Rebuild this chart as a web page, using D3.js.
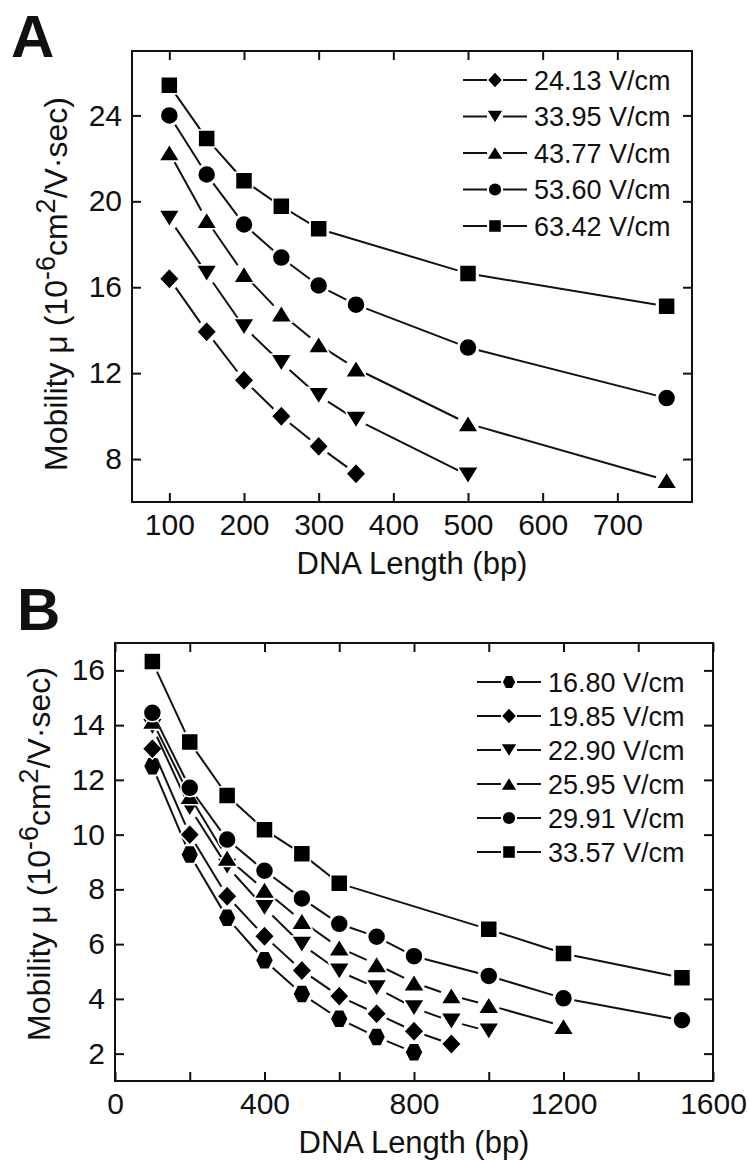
<!DOCTYPE html>
<html>
<head>
<meta charset="utf-8">
<script src="https://cdn.jsdelivr.net/npm/d3@7"></script>
<style>
  body { margin: 0; background: #fff; }
  text { font-family: "Liberation Sans", Arial, sans-serif; fill: #111; }
</style>
</head>
<body>
<div id="canvas"></div>
<script>
// Panel A: DNA length (bp) and mobility for each field strength
const lengthA = [100, 150, 200, 250, 300, 350, 500, 766];
const lengthA_sq = [100, 150, 200, 250, 300, 500, 766];
const fieldsA = ["24.13 V/cm", "33.95 V/cm", "43.77 V/cm", "53.60 V/cm", "63.42 V/cm"];
const mobA_2413 = [16.4, 13.93, 11.67, 9.99, 8.59, 7.32];
const mobA_3395 = [19.2, 16.64, 14.15, 12.48, 10.95, 9.84, 7.24];
const mobA_4377 = [22.27, 19.12, 16.6, 14.77, 13.33, 12.21, 9.65, 7.01];
const mobA_5360 = [24.0, 21.25, 18.92, 17.38, 16.08, 15.19, 13.19, 10.84];
const mobA_6342 = [25.4, 22.92, 20.96, 19.77, 18.72, 16.64, 15.11];
const ticksAx = [100, 200, 300, 400, 500, 600, 700];
const ticksAy = [8, 12, 16, 20, 24];

// Panel B
const lengthB = [100, 200, 300, 400, 500, 600, 700, 800, 900, 1000, 1200, 1517];
const lengthB_ci = [100, 200, 300, 400, 500, 600, 700, 800, 1000, 1200, 1517];
const lengthB_sq = [100, 200, 300, 400, 500, 600, 1000, 1200, 1517];
const fieldsB = ["16.80 V/cm", "19.85 V/cm", "22.90 V/cm", "25.95 V/cm", "29.91 V/cm", "33.57 V/cm"];
const mobB_1680 = [12.5, 9.27, 6.96, 5.41, 4.18, 3.27, 2.61, 2.05];
const mobB_1985 = [13.14, 10.0, 7.75, 6.29, 5.04, 4.1, 3.46, 2.82, 2.35];
const mobB_2290 = [13.94, 10.98, 8.84, 7.33, 5.99, 5.01, 4.4, 3.67, 3.18, 2.82];
const mobB_2595 = [14.15, 11.4, 9.15, 7.98, 6.84, 5.87, 5.26, 4.59, 4.12, 3.77, 3.0];
const mobB_2991 = [14.45, 11.71, 9.82, 8.68, 7.67, 6.74, 6.27, 5.56, 4.84, 4.02, 3.22];
const mobB_3357 = [16.32, 13.38, 11.43, 10.18, 9.3, 8.22, 6.54, 5.66, 4.77];
const ticksBx = [0, 200, 400, 600, 800, 1000, 1200, 1400, 1600];
const ticksBlab = [0, 400, 800, 1200, 1600];
const ticksBy = [2, 4, 6, 8, 10, 12, 14, 16];

const seriesA = [
  {name: fieldsA[0], shape: "diamond", x: lengthA, y: mobA_2413},
  {name: fieldsA[1], shape: "down", x: lengthA, y: mobA_3395},
  {name: fieldsA[2], shape: "up", x: lengthA, y: mobA_4377},
  {name: fieldsA[3], shape: "circle", x: lengthA, y: mobA_5360},
  {name: fieldsA[4], shape: "square", x: lengthA_sq, y: mobA_6342}
];
const seriesB = [
  {name: fieldsB[0], shape: "hexagon", x: lengthB, y: mobB_1680},
  {name: fieldsB[1], shape: "diamond", x: lengthB, y: mobB_1985},
  {name: fieldsB[2], shape: "down", x: lengthB, y: mobB_2290},
  {name: fieldsB[3], shape: "up", x: lengthB, y: mobB_2595},
  {name: fieldsB[4], shape: "circle", x: lengthB_ci, y: mobB_2991},
  {name: fieldsB[5], shape: "square", x: lengthB_sq, y: mobB_3357}
];

// marker outlines centered on the bounding box
function markerPath(shape, k) {
  const p = d3.path();
  if (shape === "square") {
    p.rect(-8.5 * k, -8.5 * k, 17 * k, 17 * k);
  } else if (shape === "circle") {
    p.arc(0, 0, 9 * k, 0, 2 * Math.PI);
  } else if (shape === "diamond") {
    p.moveTo(0, -10.5 * k); p.lineTo(10 * k, 0); p.lineTo(0, 10.5 * k); p.lineTo(-10 * k, 0); p.closePath();
  } else if (shape === "up") {
    p.moveTo(0, -8.5 * k); p.lineTo(10.5 * k, 8.5 * k); p.lineTo(-10.5 * k, 8.5 * k); p.closePath();
  } else if (shape === "down") {
    p.moveTo(0, 8.5 * k); p.lineTo(10.5 * k, -8.5 * k); p.lineTo(-10.5 * k, -8.5 * k); p.closePath();
  } else if (shape === "hexagon") {
    p.moveTo(-9 * k, 0); p.lineTo(-4.5 * k, -9 * k); p.lineTo(4.5 * k, -9 * k);
    p.lineTo(9 * k, 0); p.lineTo(4.5 * k, 9 * k); p.lineTo(-4.5 * k, 9 * k); p.closePath();
  }
  return p.toString();
}

const svg = d3.select("#canvas").append("svg")
  .attr("width", 749)
  .attr("height", 1163);

function drawPanel(cfg) {
  const x = d3.scaleLinear().domain(cfg.xDomain).range([cfg.left, cfg.right]);
  const y = d3.scaleLinear().domain(cfg.yDomain).range([cfg.bottom, cfg.top]);
  const g = svg.append("g");

  // axes with inward ticks
  g.append("g").attr("transform", `translate(0,${cfg.bottom})`)
    .call(d3.axisBottom(x).tickValues(cfg.xTicks).tickSize(-9).tickPadding(12)
      .tickFormat(d => cfg.xLabels.includes(d) ? d : ""));
  g.append("g").attr("transform", `translate(0,${cfg.top})`)
    .call(d3.axisTop(x).tickValues(cfg.xTicks).tickSize(-9).tickFormat(""));
  g.append("g").attr("transform", `translate(${cfg.left},0)`)
    .call(d3.axisLeft(y).tickValues(cfg.yTicks).tickSize(-9).tickPadding(10));
  g.append("g").attr("transform", `translate(${cfg.right},0)`)
    .call(d3.axisRight(y).tickValues(cfg.yTicks).tickSize(-9).tickFormat(""));
  g.selectAll(".domain").remove();
  g.selectAll(".tick line").attr("stroke", "#111").attr("stroke-width", 2);
  g.selectAll(".tick text").style("font-size", "30px")
    .style("font-family", "'Liberation Sans', Arial, sans-serif").attr("fill", "#111");

  // frame
  g.append("rect")
    .attr("x", cfg.left).attr("y", cfg.top)
    .attr("width", cfg.right - cfg.left).attr("height", cfg.bottom - cfg.top)
    .attr("fill", "none").attr("stroke", "#111").attr("stroke-width", 2);

  // series: segments with a small gap near each marker
  const gap = 11;
  cfg.series.forEach(s => {
    const pts = s.x.slice(0, s.y.length).map((v, i) => [x(v), y(s.y[i])]);
    for (let i = 0; i < pts.length - 1; i++) {
      const [x0, y0] = pts[i], [x1, y1] = pts[i + 1];
      const len = Math.hypot(x1 - x0, y1 - y0);
      if (len <= 2 * gap) continue;
      const ux = (x1 - x0) / len, uy = (y1 - y0) / len;
      g.append("line")
        .attr("x1", x0 + ux * gap).attr("y1", y0 + uy * gap)
        .attr("x2", x1 - ux * gap).attr("y2", y1 - uy * gap)
        .attr("stroke", "#111").attr("stroke-width", 2);
    }
    g.selectAll(null).data(pts).enter().append("path")
      .attr("d", markerPath(s.shape, 1))
      .attr("transform", d => `translate(${d[0]},${d[1]})`)
      .attr("fill", "#000").attr("stroke", "#fff").attr("stroke-width", 1.5);
  });

  // legend
  cfg.series.forEach((s, i) => {
    const ly = cfg.legY + i * cfg.legStep;
    const lg = g.append("g").attr("transform", `translate(${cfg.legX},${ly})`);
    lg.append("line").attr("x1", 0).attr("x2", 24).attr("stroke", "#111").attr("stroke-width", 2);
    lg.append("line").attr("x1", 40).attr("x2", 64).attr("stroke", "#111").attr("stroke-width", 2);
    lg.append("path").attr("d", markerPath(s.shape, 0.68))
      .attr("transform", "translate(32,0)").attr("fill", "#000");
    lg.append("text").attr("x", 71).attr("y", 9.5)
      .style("font-size", "27px").text(s.name);
  });

  // axis titles
  g.append("text")
    .attr("x", (cfg.left + cfg.right) / 2).attr("y", cfg.bottom + 72)
    .attr("text-anchor", "middle").style("font-size", "31px")
    .text("DNA Length (bp)");
  const yt = g.append("text")
    .attr("transform", `translate(${cfg.yTitleX},${cfg.yTitleY}) rotate(-90)`)
    .attr("text-anchor", "middle").style("font-size", "32px");
  yt.append("tspan").text("Mobility \u03bc (10");
  yt.append("tspan").attr("dy", -12).style("font-size", "27px").text("-6");
  yt.append("tspan").attr("dy", 12).text("cm");
  yt.append("tspan").attr("dy", -12).style("font-size", "27px").text("2");
  yt.append("tspan").attr("dy", 12).text("/V\u00b7sec)");

  // panel letter
  g.append("text").attr("x", cfg.letterX).attr("y", cfg.letterY)
    .style("font-size", "60px").style("font-weight", "bold").text(cfg.letter);
}

drawPanel({
  letter: "A", letterX: 11, letterY: 57,
  left: 132, right: 692, top: 51, bottom: 502,
  xDomain: [50, 800], yDomain: [6, 27],
  xTicks: ticksAx, xLabels: ticksAx, yTicks: ticksAy,
  series: seriesA, legX: 463, legY: 80, legStep: 36.5,
  yTitleX: 67, yTitleY: 284
});

drawPanel({
  letter: "B", letterX: 17, letterY: 630,
  left: 115, right: 713, top: 643, bottom: 1081,
  xDomain: [0, 1600], yDomain: [1, 17],
  xTicks: ticksBx, xLabels: ticksBlab, yTicks: ticksBy,
  series: seriesB, legX: 477, legY: 682, legStep: 34,
  yTitleX: 50, yTitleY: 854
});
</script>
</body>
</html>
